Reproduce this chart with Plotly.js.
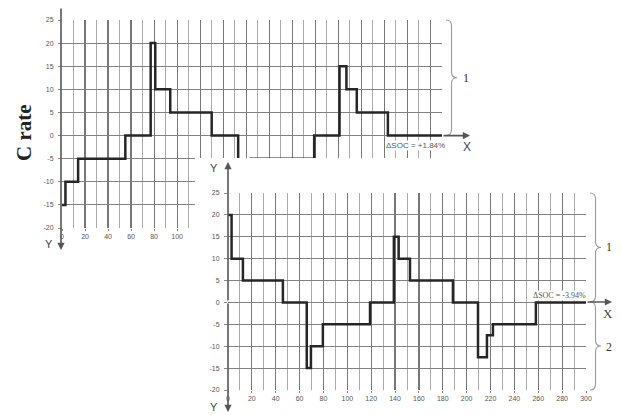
<!DOCTYPE html>
<html><head><meta charset="utf-8">
<script src="https://cdn.plot.ly/plotly-3.0.1.min.js"></script>
<style>html,body{margin:0;padding:0;background:#fff}#chart{width:622px;height:415px}</style>
</head><body><div id="chart"></div>
<script>
// ---- data: upper profile (ΔSOC = +1.84%)
const topX = [0, 3, 14, 55, 77, 81, 94, 130, 153, 157, 164, 219, 241, 247, 256, 283, 330];
const topY = [-15, -10, -5, 0, 20, 10, 5, 0, -15, -10, -5, 0, 15, 10, 5, 0, 0];
// ---- data: lower profile (ΔSOC = -3.94%)
const botX = [0, 3, 12.5, 46, 66, 69.5, 79.5, 119, 139, 143, 152.5, 188.5, 209.5, 217, 222, 258, 300];
const botY = [20, 10, 5, 0, -15, -10, -5, 0, 15, 10, 5, 0, -12.5, -7.5, -5, 0, 0];
// ---- tick labels
const yTickVals = [-20, -15, -10, -5, 0, 5, 10, 15, 20, 25];
const yTickText = ['-20', '-15', '-10', '-5', '0', '5', '10', '15', '20', '25'];
const topXTicks = [0, 20, 40, 60, 80, 100, 120, 140, 160, 180, 200, 220, 240, 260, 280, 300, 320];
// upper panel: only the labels left of the overlapping lower panel are visible
const topXText = ['0', '20', '40', '60', '80', '100', '', '', '', '', '', '', '', '', '', '', ''];
const botXTicks = [0, 20, 40, 60, 80, 100, 120, 140, 160, 180, 200, 220, 240, 260, 280, 300];
const botXText = ['0', '20', '40', '60', '80', '100', '120', '140', '160', '180', '200', '220', '240', '260', '280', '300'];
const yTitle = 'C rate';
const topNote = 'ΔSOC = +1.84%';
const botNote = 'ΔSOC = -3.94%';
const braceLabels = ['1', '1', '2'];

const W = 622, H = 415;
const px = v => v / W, py = v => 1 - v / H;

const tickFont = {family: 'Liberation Sans, Arial, sans-serif', size: 7, color: '#555'};
function xAxis(dom, rng, ticks, text, anchor) {
  return {domain: dom, range: rng, tickvals: ticks, ticktext: text,
    showgrid: true, gridcolor: '#777', gridwidth: 1.2,
    minor: {dtick: 10, tick0: 0, showgrid: true, gridcolor: '#aaa', gridwidth: 1},
    zeroline: false, showline: false, ticks: 'outside', ticklen: 2, tickcolor: '#888',
    tickfont: tickFont, anchor: anchor, fixedrange: true};
}
function yAxis(dom, anchor) {
  return {domain: dom, range: [-20, 25], tickvals: yTickVals, ticktext: yTickText,
    showgrid: true, gridcolor: '#828282', gridwidth: 1.2,
    zeroline: false, showline: false, ticks: 'outside', ticklen: 3, tickcolor: '#888',
    tickfont: tickFont, anchor: anchor, fixedrange: true, ticklabelstandoff: 3};
}

const lineStyle = {color: '#262626', width: 2.5, shape: 'hv'};
const traces = [
  {x: topX, y: topY, xaxis: 'x', yaxis: 'y', mode: 'lines', line: lineStyle, hoverinfo: 'skip'},
  {x: [], y: [], xaxis: 'x2', yaxis: 'y2', mode: 'lines', hoverinfo: 'skip'},
  {x: botX, y: botY, xaxis: 'x3', yaxis: 'y3', mode: 'lines', line: lineStyle, hoverinfo: 'skip'}
];

function brace(x0, y0, y1, w) {
  const m = (y0 + y1) / 2, xm = x0 + w * 0.5, xt = x0 + w, r = 6;
  const P = (a, b) => px(a).toFixed(5) + ',' + py(b).toFixed(5);
  return 'M' + P(x0, y0) + ' Q' + P(xm, y0) + ' ' + P(xm, y0 + r) +
    ' L' + P(xm, m - r) + ' Q' + P(xm, m) + ' ' + P(xt, m) +
    ' Q' + P(xm, m) + ' ' + P(xm, m + r) + ' L' + P(xm, y1 - r) +
    ' Q' + P(xm, y1) + ' ' + P(x0, y1);
}
const braceStyle = {color: '#9a9a9a', width: 1.1};
const shapes = [
  {type: 'path', xref: 'paper', yref: 'paper', layer: 'above', path: brace(446, 20, 135.5, 11), line: braceStyle},
  {type: 'path', xref: 'paper', yref: 'paper', layer: 'above', path: brace(590, 193, 302, 11), line: braceStyle},
  {type: 'path', xref: 'paper', yref: 'paper', layer: 'above', path: brace(590, 302, 390, 11), line: braceStyle}
];

function arrow(hx, hy, tx, ty, head) {
  return {xref: 'paper', yref: 'paper', x: px(hx), y: py(hy), ax: tx - hx, ay: ty - hy,
    text: '', showarrow: true, arrowhead: head, arrowsize: 0.9, arrowwidth: 1.6, arrowcolor: '#555'};
}
const sans = 'Liberation Sans, Arial, sans-serif', serif = 'Liberation Serif, Times New Roman, serif';
const lab = (x, y, t, font, extra) => Object.assign({xref: 'paper', yref: 'paper', x: px(x), y: py(y),
  xanchor: 'center', yanchor: 'middle', text: t, showarrow: false, font: font}, extra || {});

const annotations = [
  arrow(61, 250, 61, 7, 2),
  arrow(228, 162, 228, 302, 2),
  arrow(228, 412, 228, 302, 2),
  arrow(470, 135.6, 442, 135.6, 2),
  arrow(612, 302, 586, 302, 2),
  lab(24, 133, '<b>' + yTitle + '</b>', {family: serif, size: 21, color: '#222'}, {textangle: -90}),
  lab(49, 244, 'Y', {family: sans, size: 11, color: '#444'}),
  lab(214, 168, 'Y', {family: sans, size: 11, color: '#444'}),
  lab(214, 407, 'Y', {family: sans, size: 11, color: '#444'}),
  lab(467, 147, 'X', {family: sans, size: 12, color: '#444'}),
  lab(608, 313, 'X', {family: serif, size: 13, color: '#444'}),
  lab(466, 78, braceLabels[0], {family: serif, size: 12, color: '#333'}),
  lab(609, 247, braceLabels[1], {family: serif, size: 12, color: '#333'}),
  lab(609, 347, braceLabels[2], {family: serif, size: 12, color: '#333'}),
  lab(415, 145, topNote, {family: sans, size: 8, color: '#555'}, {bgcolor: '#fff', borderpad: 0}),
  lab(559, 295, botNote, {family: serif, size: 8, color: '#555'}, {bgcolor: '#fff', borderpad: 0})
];

const layout = {
  width: W, height: H, margin: {l: 0, r: 0, t: 0, b: 0},
  paper_bgcolor: '#fff', plot_bgcolor: '#fff', showlegend: false,
  xaxis: xAxis([px(62), px(442)], [0, 330], topXTicks, topXText, 'y'),
  yaxis: yAxis([py(228), py(20)], 'x'),
  xaxis2: {domain: [px(195), 1], range: [0, 1], showgrid: false, zeroline: false,
    showline: false, showticklabels: false, ticks: '', anchor: 'y2', fixedrange: true},
  yaxis2: {domain: [0, py(158)], range: [0, 1], showgrid: false, zeroline: false,
    showline: false, showticklabels: false, ticks: '', anchor: 'x2', fixedrange: true},
  xaxis3: xAxis([px(228), px(586)], [0, 300], botXTicks, botXText, 'y3'),
  yaxis3: yAxis([py(390), py(193)], 'x3'),
  shapes: shapes, annotations: annotations
};
Plotly.newPlot('chart', traces, layout, {displayModeBar: false, staticPlot: true});
</script></body></html>
